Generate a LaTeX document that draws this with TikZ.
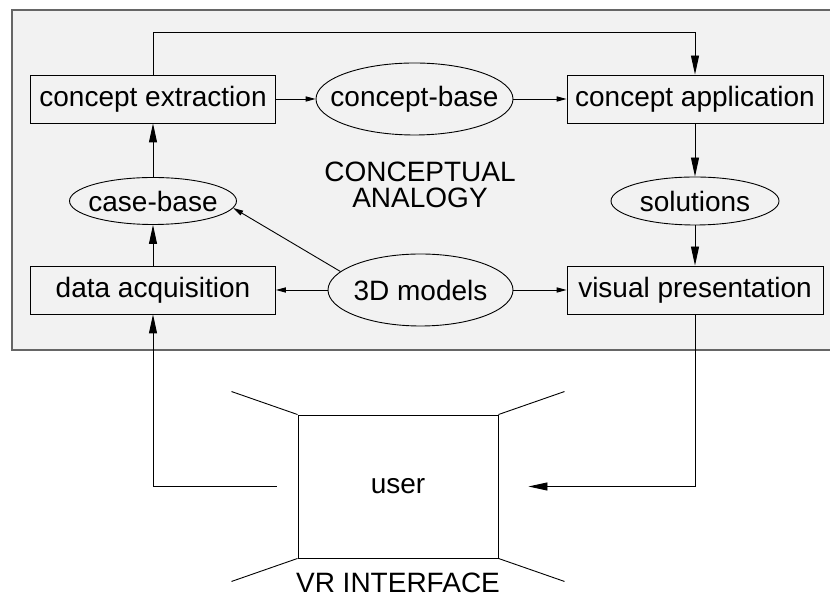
\documentclass[tikz,border=0pt]{standalone}
\usepackage{fontspec}
\setmainfont{Liberation Sans}
\usetikzlibrary{shapes.geometric,arrows.meta}
\definecolor{panelfill}{gray}{0.95}
\definecolor{panelline}{gray}{0.4}
\tikzset{basic/.style={draw,line width=0.45pt,inner sep=0pt,
                       font=\fontsize{14}{16}\selectfont}}
\tikzset{process/.style={basic,rectangle,minimum height=24pt}}
\tikzset{store/.style={basic,ellipse}}
\tikzset{big/.style={-{Triangle[length=9.5pt,width=4pt]},line width=0.45pt}}
\tikzset{small/.style={-{Triangle[length=5pt,width=2.6pt]},line width=0.45pt}}
\newcommand{\ovaltext}[1]{\makebox[0pt]{#1}}

\begin{document}
\begin{tikzpicture}[x=0.5pt,y=-0.5pt]
    \useasboundingbox (0,0) rectangle (830,597);
    % Panel
    \fill[panelfill] (12,10) rectangle (834,350);
    \draw[panelline,line width=0.9pt] (834,10) -- (12,10) -- (12,350) -- (834,350);
    \node[align=center,font=\fontsize{14}{13}\selectfont] (title) at (420,185) {CONCEPTUAL\\ANALOGY};
    % Boxes
    \node[process,minimum width=122.5pt] (extract) at (153,99) {concept extraction};
    \node[process,minimum width=122.5pt] (acquire) at (153,290) {data acquisition};
    \node[process,minimum width=128pt] (apply) at (695,99) {concept application};
    \node[process,minimum width=128pt] (present) at (695,290) {visual presentation};
    % Ovals
    \node[store,minimum width=98.5pt,minimum height=36pt] (conceptbase) at (414.5,99) {\ovaltext{concept-base}};
    \node[store,minimum width=83.5pt,minimum height=23.5pt] (casebase) at (153,201) {\ovaltext{case-base}};
    \node[store,minimum width=84pt,minimum height=24pt] (solutions) at (695,201) {\ovaltext{solutions}};
    \node[store,minimum width=92.5pt,minimum height=36pt] (models) at (420.5,290) {\ovaltext{3D models}};
    % Connectors
    \draw[big] (extract.north) -- ++(0,-42) -| (apply.north);
    \draw[small] (extract) -- (conceptbase);
    \draw[small] (conceptbase) -- (apply);
    \draw[big] (apply) -- (solutions);
    \draw[big] (solutions) -- (present);
    \draw[big] (acquire) -- (casebase);
    \draw[big] (casebase) -- (extract);
    \draw[small] (models.167) -- (casebase.-5);
    \draw[small] (models) -- (acquire);
    \draw[small] (models) -- (present);
    % VR interface
    \node[basic,rectangle,minimum width=100pt,minimum height=71.5pt] (user) at (398,486.5) {user};
    \foreach \a/\dx/\dy in {north west/-66/-23,north east/66/-23,
                            south west/-66/23,south east/66/23}
      \draw[line width=0.45pt] (user.\a) -- ++(\dx,\dy);
    \node[font=\fontsize{14}{16}\selectfont] (vr) at (398,583) {VR INTERFACE};
    \draw[big] (present.south) |- ([xshift=15pt]user.east);
    \draw[big] ([xshift=-10.5pt]user.west) -| (acquire.south);
\end{tikzpicture}
\end{document}
